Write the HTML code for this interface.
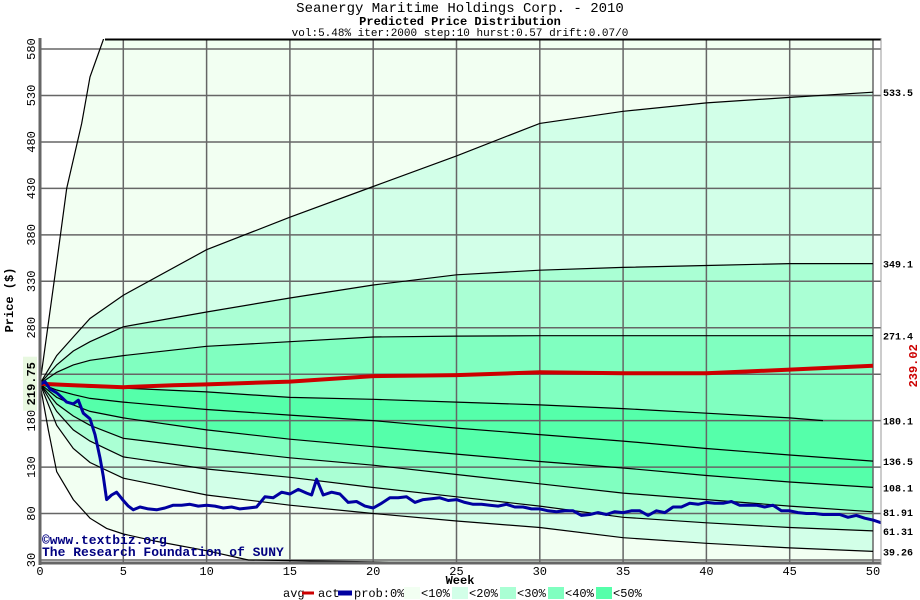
<!DOCTYPE html>
<html><head><meta charset="utf-8"><style>
body{margin:0;background:#fff;}
svg{display:block;font-family:"Liberation Mono",monospace;}
</style></head><body>
<svg id="chart" width="920" height="600" xmlns="http://www.w3.org/2000/svg">
<defs><clipPath id="pc"><rect x="40" y="39" width="841" height="524"/></clipPath></defs>
<text x="460" y="12" text-anchor="middle" font-size="14">Seanergy Maritime Holdings Corp. - 2010</text>
<text x="460" y="25" text-anchor="middle" font-size="12" font-weight="bold">Predicted Price Distribution</text>
<text x="460" y="36" text-anchor="middle" font-size="11">vol:5.48% iter:2000 step:10 hurst:0.57 drift:0.07/0</text>
<g id="bands" clip-path="url(#pc)"></g>
<g id="grid"></g>
<g id="curves" clip-path="url(#pc)"></g>
<g id="series" clip-path="url(#pc)"></g>
<g id="axes"></g>
<text x="42" y="544" font-size="13" font-weight="bold" fill="#000080">©www.textbiz.org</text>
<text x="42" y="556" font-size="13" font-weight="bold" fill="#000080">The Research Foundation of SUNY</text>
<text x="460" y="584" text-anchor="middle" font-size="12" font-weight="bold">Week</text>
<text transform="translate(13,300) rotate(-90)" text-anchor="middle" font-size="12" font-weight="bold">Price ($)</text>
<g id="legend"></g>
</svg>
<script>
const weeks=[0,1,2,3,5,10,15,20,25,30,35,40,45,50];
const curveA=[219.75,250,270,290,315,364,399,432,465,500,513,522,528,533.5];
const curveB=[219.75,240,255,265,281,297,312,326,337,342,345,347,349,349.1];
const curveC=[219.75,232,240,245,250,260,265,270,271,271.4,271.4,271.4,271.4,271.4];
const curveD2=[219.75,218,217,216,215,211,205,203,200,197,193,188,183,180];
const curveE=[219.75,213,208,204,200,192,186,180,172,165,158,150,143,136.5];
const curveF=[219.75,205,197,190,183,170,160,152,144,136,129,121,114,108.1];
const curveG=[219.75,198,185,175,161,150,140,132,122,112,102,95,88,81.91];
const curveH=[219.75,190,170,158,141,128,119,108,98,88,76,70,65,61.31];
const curveI=[219.75,175,150,135,118,100,89,80,72,65,54,48,43,39.26];
const weeksD=[0,1,2,3,5,10,15,20,25,30,35,40,45,47];
const curveD=[219.75,218,217,216,215,211,205,203,200,197,193,188,183,180.1];
const weeksMax=[0,1,1.6,2.5,3,3.6,4,50];
const curveMax=[219.75,350,430,500,550,580,600,600];
const weeksMin=[0,0.5,1,2,3,4,5,7,10,12.5,50];
const curveMin=[219.75,170,125,95,75,64,58,50,40,30,20];
const avgWeeks=[0,2,5,8,10,15,20,25,30,35,40,45,50];
const avgVals=[219.75,218,216,218,219,222,228,229,232,231,231,235,239.02];
const actWeeks=[0,0.3,0.6,1,1.3,1.6,2,2.3,2.6,3,3.3,3.6,3.8,4,4.3,4.6,5,5.3,5.6,6,6.5,7,7.5,8,8.5,9,9.5,10,10.5,11,11.5,12,12.5,13,13.5,14,14.5,15,15.5,16,16.3,16.6,17,17.5,18,18.5,19,19.5,20,20.5,21,21.5,22,22.5,23,23.5,24,24.5,25,25.5,26,26.5,27,27.5,28,28.5,29,29.5,30,30.5,31,31.5,32,32.5,33,33.5,34,34.5,35,35.5,36,36.5,37,37.5,38,38.5,39,39.5,40,40.5,41,41.5,42,42.5,43,43.5,44,44.5,45,45.5,46,46.5,47,47.5,48,48.5,49,49.5,50,50.5];
const actVals=[219,222,214,210,205,200,198,202,188,182,165,140,120,95,100,103,94,88,84,87,85,84,86,89,89,90,88,89,88,86,87,85,86,87,98,97,103,101,106,102,100,117,100,103,101,92,93,88,86,91,97,97,98,92,95,96,97,94,95,92,90,90,89,88,90,87,87,85,85,83,82,83,83,78,79,81,79,82,81,83,83,78,83,81,87,87,91,90,92,91,91,93,89,89,89,87,89,83,83,81,80,80,79,79,79,76,78,75,73,70,71,72];
const xTicks=[0,5,10,15,20,25,30,35,40,45,50];
const yTicks=[30,80,130,180,280,330,380,430,480,530,580];
const yGrid=[30,80,130,180,230,280,330,380,430,480,530,580];
const endLabels=["533.5","349.1","271.4","180.1","136.5","108.1","81.91","61.31","39.26"];
const endValues=[533.5,349.1,271.4,180.1,136.5,108.1,81.91,61.31,39.26];

const NS="http://www.w3.org/2000/svg";
const X=w=>40+w*16.66;
const Y=v=>560-(v-30)*0.929;
function mk(tag,parent,attrs){const e=document.createElementNS(NS,tag);for(const k in attrs)e.setAttribute(k,attrs[k]);parent.appendChild(e);return e;}
function pts(ws,vs){return ws.map((w,i)=>X(w).toFixed(1)+','+Y(vs[i]).toFixed(1));}
const bands=document.getElementById('bands');
const bandDefs=[[weeksMax,curveMax,weeksMin,curveMin,'#f2fff2'],[weeks,curveA,weeks,curveI,'#d2ffe8'],[weeks,curveB,weeks,curveH,'#aaffd4'],[weeks,curveC,weeks,curveG,'#80ffc0'],[weeks,curveD2,weeks,curveF,'#55ffaa']];
bandDefs.forEach((b,i)=>{
 const p=pts(b[0],b[1]).concat(pts(b[2],b[3]).reverse());
 const e=mk('polygon',bands,{points:p.join(' '),fill:b[4]});
 
 
});
const grid=document.getElementById('grid');
xTicks.forEach(t=>{const e=mk('line',grid,{x1:X(t),x2:X(t),y1:39,y2:563,stroke:'#666','stroke-width':1.5});
 
 });
yGrid.forEach(t=>{const e=mk('line',grid,{x1:40,x2:881,y1:Y(t),y2:Y(t),stroke:'#666','stroke-width':1.5});
 
 });
const curves=document.getElementById('curves');
[[weeksMax,curveMax],[weeks,curveA],[weeks,curveB],[weeks,curveC],[weeksD,curveD],[weeks,curveE],[weeks,curveF],[weeks,curveG],[weeks,curveH],[weeks,curveI],[weeksMin,curveMin]].forEach((c,i)=>{
 const e=mk('polyline',curves,{points:pts(c[0],c[1]).join(' '),fill:'none',stroke:'#000','stroke-width':1.2});
 
 
});
const series=document.getElementById('series');
const av=mk('polyline',series,{points:pts(avgWeeks,avgVals).join(' '),fill:'none',stroke:'#cc0000','stroke-width':4});


const ac=mk('polyline',series,{points:pts(actWeeks,actVals).join(' '),fill:'none',stroke:'#0000a0','stroke-width':3,'stroke-linejoin':'round'});


const axes=document.getElementById('axes');
mk('line',axes,{x1:105,x2:881,y1:39.5,y2:39.5,stroke:'#000','stroke-width':2});
mk('line',axes,{x1:40,x2:40,y1:38,y2:565,stroke:'#666','stroke-width':3});
mk('line',axes,{x1:39,x2:881,y1:563,y2:563,stroke:'#666','stroke-width':3});
mk('line',axes,{x1:881,x2:881,y1:38,y2:565,stroke:'#999','stroke-width':1});
xTicks.forEach(t=>{const e=mk('text',axes,{x:X(t),y:575,'text-anchor':'middle','font-size':12});e.textContent=t;
 
 });
yTicks.forEach(t=>{const e=mk('text',axes,{transform:`translate(35,${Y(t)}) rotate(-90)`,'text-anchor':'middle','font-size':12});e.textContent=t;
 
 });
const sl=mk('rect',axes,{x:23,y:Y(219.75)-27,width:14,height:54,fill:'#e8f8e0'});
const st=mk('text',axes,{transform:`translate(35,${Y(219.75)}) rotate(-90)`,'text-anchor':'middle','font-size':12,'font-weight':'bold'});
st.textContent='219.75';


const et=mk('text',axes,{transform:`translate(917,${Y(239.02)}) rotate(-90)`,'text-anchor':'middle','font-size':12,'font-weight':'bold',fill:'#cc0000'});
et.textContent='239.02';


endLabels.forEach((l,i)=>{const e=mk('text',axes,{x:883,y:Y(endValues[i])+4,'font-size':10,'font-weight':'bold'});e.textContent=l;
 
 });
const legend=document.getElementById('legend');
const items=[['avg',283],['act',318],['prob:0%<',354],['<10%',421],['<20%',469],['<30%',517],['<40%',565],['<50%',613]];
const sw=[['#cc0000',302,12,3],['#0000a0',338,14,5],['#f2fff2',404,16,12],['#d2ffe8',452,16,12],['#aaffd4',500,16,12],['#80ffc0',548,16,12],['#55ffaa',596,16,12]];
items.forEach(it=>{const e=mk('text',legend,{x:it[1],y:597,'font-size':12});e.textContent=it[0];
 
 });
sw.forEach(s=>{const e=mk('rect',legend,{x:s[1],y:593-s[3]/2,width:s[2],height:s[3],fill:s[0]});
 
 });
</script>
</body></html>
